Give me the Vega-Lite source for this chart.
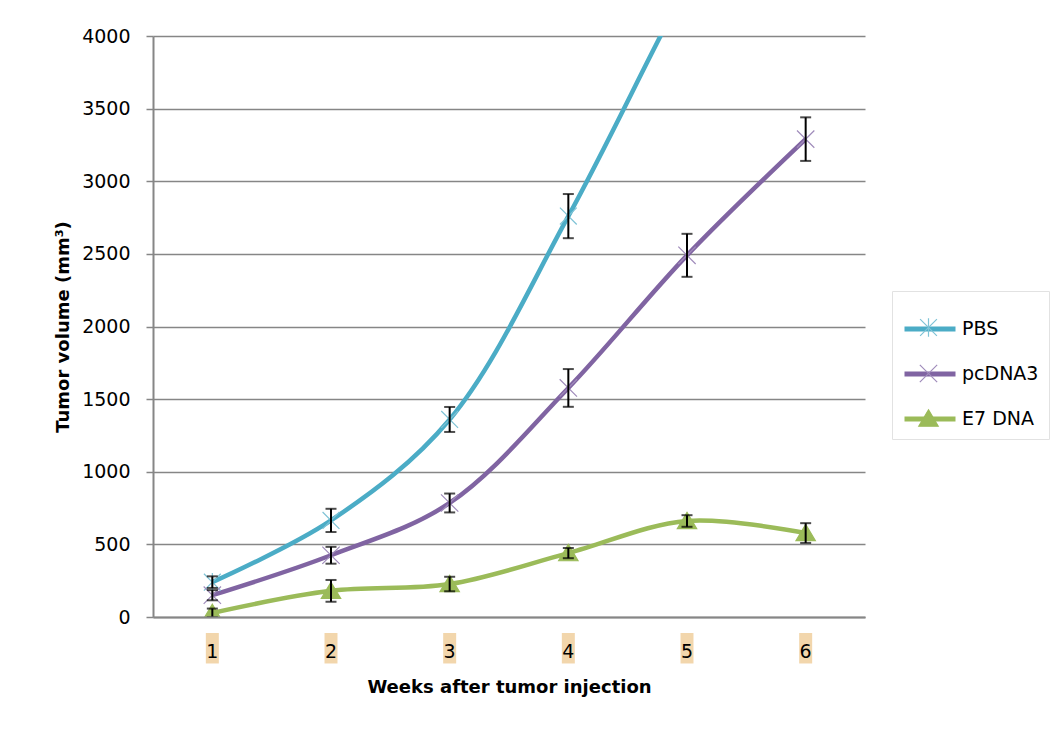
{
  "$schema": "https://vega.github.io/schema/vega-lite/v6.json",
  "width": 712,
  "height": 581,
  "autosize": {"type": "none"},
  "padding": {"left": 153, "top": 36, "right": 191, "bottom": 112},
  "background": "white",
  "config": {
    "view": {"stroke": null},
    "font": "DejaVu Sans"
  },
  "data": {
    "values": [
      {"week": "1", "series": "PBS", "value": 240, "err": 40},
      {"week": "2", "series": "PBS", "value": 665, "err": 80},
      {"week": "3", "series": "PBS", "value": 1360, "err": 86},
      {"week": "4", "series": "PBS", "value": 2760, "err": 152},
      {"week": "5", "series": "PBS", "value": 4350, "err": 200},
      {"week": "6", "series": "PBS", "value": 5800, "err": 250},
      {"week": "1", "series": "pcDNA3", "value": 150, "err": 35},
      {"week": "2", "series": "pcDNA3", "value": 425, "err": 58},
      {"week": "3", "series": "pcDNA3", "value": 785, "err": 65},
      {"week": "4", "series": "pcDNA3", "value": 1577, "err": 130},
      {"week": "5", "series": "pcDNA3", "value": 2490, "err": 148},
      {"week": "6", "series": "pcDNA3", "value": 3290, "err": 150},
      {"week": "1", "series": "E7 DNA", "value": 28, "err": 30},
      {"week": "2", "series": "E7 DNA", "value": 180, "err": 75},
      {"week": "3", "series": "E7 DNA", "value": 227, "err": 50},
      {"week": "4", "series": "E7 DNA", "value": 440, "err": 35},
      {"week": "5", "series": "E7 DNA", "value": 661, "err": 40},
      {"week": "6", "series": "E7 DNA", "value": 578, "err": 68}
    ]
  },
  "encoding": {
    "x": {
      "field": "week",
      "type": "ordinal",
      "scale": {"paddingInner": 0, "paddingOuter": 0},
      "axis": {
        "title": "Weeks after tumor injection",
        "titleFont": "DejaVu Sans",
        "titleFontSize": 18,
        "titleFontWeight": "bold",
        "titleColor": "black",
        "titlePadding": 17,
        "labelAngle": 0,
        "labelFont": "DejaVu Sans",
        "labelFontSize": 19,
        "labelColor": "black",
        "labelPadding": 25,
        "ticks": false,
        "domainColor": "#868686",
        "domainWidth": 2,
        "grid": false,
        "zindex": 1
      }
    },
    "y": {
      "field": "value",
      "type": "quantitative",
      "scale": {"domain": [0, 4000], "nice": false, "zero": true},
      "axis": {
        "values": [0, 500, 1000, 1500, 2000, 2500, 3000, 3500, 4000],
        "format": "d",
        "title": "Tumor volume (mm³)",
        "titleFont": "DejaVu Sans",
        "titleFontSize": 18,
        "titleFontWeight": "bold",
        "titleColor": "black",
        "titlePadding": 9,
        "labelFont": "DejaVu Sans",
        "labelFontSize": 19,
        "labelColor": "black",
        "labelPadding": 16,
        "tickSize": 7,
        "tickColor": "#868686",
        "tickWidth": 1.5,
        "domainColor": "#868686",
        "domainWidth": 2,
        "grid": true,
        "gridColor": "#868686",
        "gridWidth": 1.5
      }
    }
  },
  "layer": [
    {
      "transform": [{"filter": "datum.series === 'PBS'"}],
      "mark": {"type": "bar", "width": 13, "color": "#F2D6AC", "clip": false},
      "encoding": {
        "y": {"datum": -110},
        "y2": {"datum": -320}
      }
    },
    {
      "mark": {"type": "line", "interpolate": "catmull-rom", "strokeWidth": 4.5, "clip": true},
      "encoding": {
        "color": {
          "field": "series",
          "type": "nominal",
          "sort": ["PBS", "pcDNA3", "E7 DNA"],
          "scale": {"range": ["#4BACC6", "#8064A2", "#9BBB59"]},
          "legend": {
            "orient": "none",
            "legendX": 739,
            "legendY": 255,
            "title": null,
            "symbolType": "stroke",
            "symbolStrokeWidth": 5,
            "symbolSize": 2601,
            "fillColor": "white",
            "strokeColor": "#e2e2e2",
            "padding": 10,
            "labelFont": "DejaVu Sans",
            "labelFontSize": 19,
            "labelColor": "black",
            "labelOffset": 4,
            "rowPadding": 7
          }
        }
      }
    },
    {
      "mark": {"type": "point", "filled": true, "size": 2601, "strokeWidth": 1.2, "opacity": 1, "clip": true},
      "encoding": {
        "shape": {
          "field": "series",
          "type": "nominal",
          "scale": {
            "domain": ["PBS", "pcDNA3", "E7 DNA"],
            "range": [
              "M-0.33,-0.33L0.33,0.33M-0.33,0.33L0.33,-0.33M0,-0.36L0,0.36",
              "M-0.34,-0.34L0.34,0.34M-0.34,0.34L0.34,-0.34",
              "M0,-0.34L0.38,0.3L-0.38,0.3Z"
            ]
          },
          "legend": {
            "orient": "none",
            "legendX": 739,
            "legendY": 255,
            "title": null,
            "symbolSize": 2601,
            "symbolStrokeWidth": 1.2,
            "padding": 10,
            "labelFont": "DejaVu Sans",
            "labelFontSize": 19,
            "labelOpacity": 0,
            "labelOffset": 4,
            "rowPadding": 7
          }
        },
        "fill": {
          "field": "series",
          "type": "nominal",
          "scale": {"domain": ["PBS", "pcDNA3", "E7 DNA"], "range": ["#4BACC6", "#8064A2", "#9BBB59"]}
        },
        "stroke": {
          "field": "series",
          "type": "nominal",
          "scale": {"domain": ["PBS", "pcDNA3", "E7 DNA"], "range": ["#7FC3D6", "#A08CBB", "#9BBB59"]}
        }
      }
    },
    {
      "mark": {
        "type": "errorbar",
        "color": "black",
        "clip": true,
        "rule": {"strokeWidth": 2},
        "ticks": {"size": 11, "thickness": 2}
      },
      "encoding": {
        "y": {"field": "value", "type": "quantitative"},
        "yError": {"field": "err"},
        "detail": {"field": "series", "type": "nominal"}
      }
    }
  ]
}
